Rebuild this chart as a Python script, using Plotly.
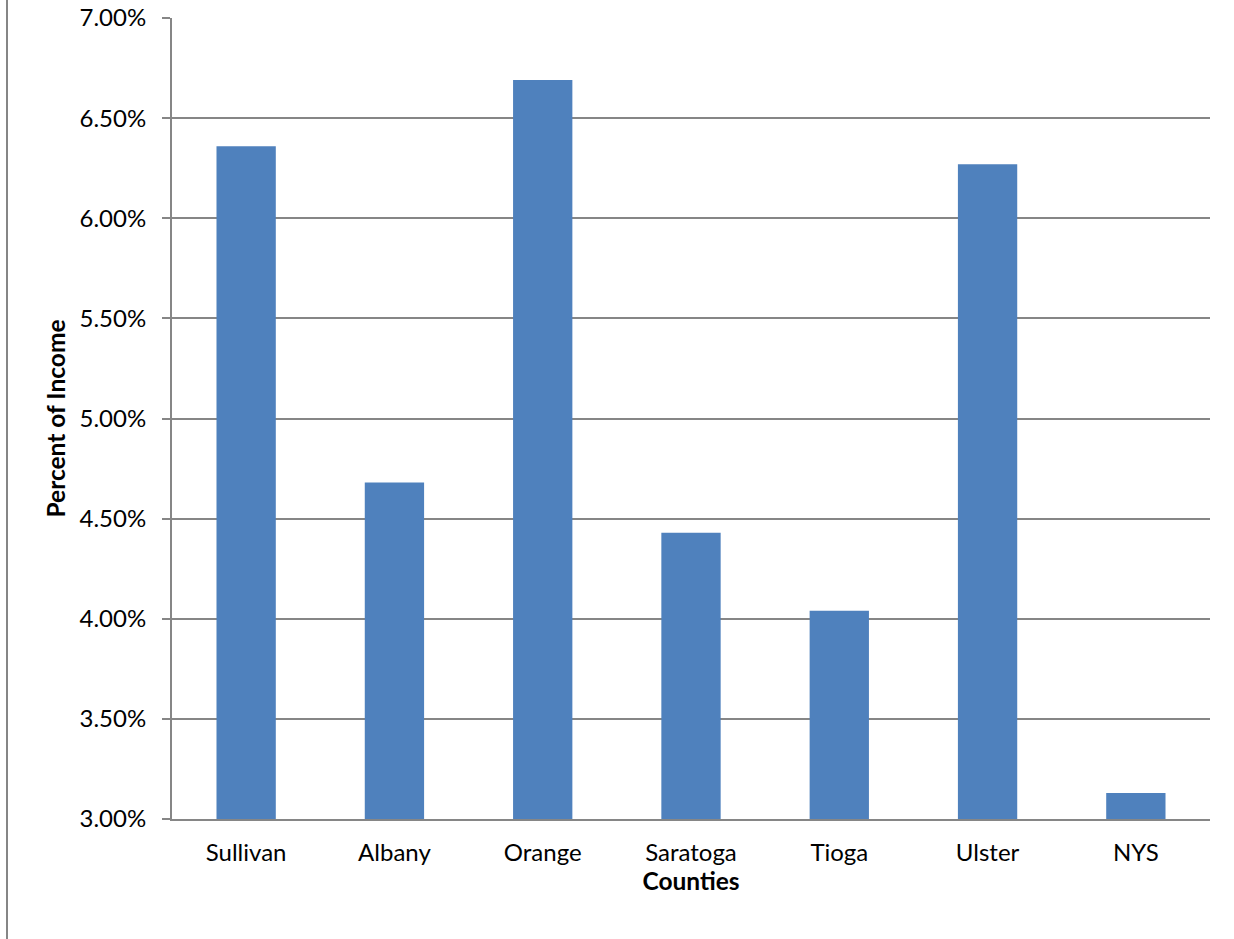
import plotly.graph_objects as go

counties = ["Sullivan", "Albany", "Orange", "Saratoga", "Tioga", "Ulster", "NYS"]
percent_income = [6.36, 4.68, 6.69, 4.43, 4.04, 6.27, 3.13]
y_ticks = [3.0, 3.5, 4.0, 4.5, 5.0, 5.5, 6.0, 6.5, 7.0]
y_ticklabels = [f"{v:.2f}%" for v in y_ticks]

W, H = 1234, 939
L, R, T, B = 172, 24, 18, 120
pw, ph = W - L - R, H - T - B

font = "Lato, Calibri, Carlito, sans-serif"
grid = "#868686"

fig = go.Figure(go.Bar(
    x=counties, y=percent_income,
    marker=dict(color="#4F81BD", line=dict(width=0)),
    width=0.4,
))

fig.update_layout(
    width=W, height=H,
    margin=dict(l=L, r=R, t=T, b=B, pad=0),
    paper_bgcolor="white", plot_bgcolor="white",
    showlegend=False,
    font=dict(family=font, size=24, color="black"),
    xaxis=dict(
        title=dict(text="<b>Counties</b>", font=dict(size=24.5), standoff=0),
        showline=True, linecolor=grid, linewidth=2,
        ticks="", showgrid=False,
        tickfont=dict(size=24),
        ticklabelstandoff=11,
        automargin=False,
    ),
    yaxis=dict(
        title=dict(text="<b>Percent of Income</b>", font=dict(size=24.5), standoff=7),
        range=[3.0, 7.0],
        tickvals=y_ticks, ticktext=y_ticklabels,
        showline=True, linecolor=grid, linewidth=2,
        showgrid=True, gridcolor=grid, gridwidth=1.5,
        ticks="outside", ticklen=8, tickcolor=grid, tickwidth=1.5,
        ticklabelstandoff=11,
        zeroline=False,
        automargin=False,
    ),
    shapes=[dict(
        type="line", xref="paper", yref="paper",
        x0=(7 - L) / pw, x1=(7 - L) / pw,
        y0=(H - B - 0) / ph, y1=(H - B - H) / ph,
        line=dict(color=grid, width=2),
    )],
)

fig.write_html("out.html")
